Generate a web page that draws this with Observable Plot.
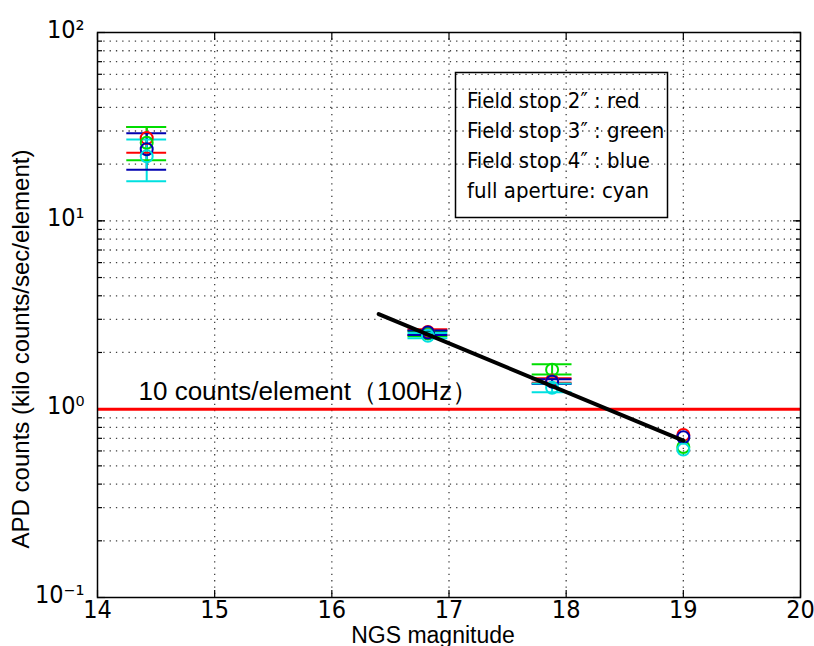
<!DOCTYPE html>
<html>
<head>
<meta charset="utf-8">
<script src="https://cdn.jsdelivr.net/npm/d3@7"></script>
<script src="https://cdn.jsdelivr.net/npm/@observablehq/plot@0.6"></script>
<style>
  html, body { margin: 0; padding: 0; background: #fff; }
  #chart { width: 814px; height: 646px; }
</style>
</head>
<body>
<div id="chart"></div>
<script>
// ---- data ----
const seriesNames = ["Field stop 2″", "Field stop 3″", "Field stop 4″", "full aperture"];
const seriesColors = ["#ff0000", "#00dd00", "#0000b0", "#00e0e0"];
const magnitudes = [14.42, 16.82, 17.88, 19.0];

const redVal = [27.5, 2.57, 1.42, 0.73];
const redLo  = [23.0, 2.48, 1.38, 0.73];
const redHi  = [31.5, 2.66, 1.46, 0.73];

const greenVal = [26.0, 2.52, 1.62, 0.63];
const greenLo  = [21.0, 2.44, 1.53, 0.63];
const greenHi  = [31.5, 2.60, 1.73, 0.63];

const blueVal = [24.0, 2.55, 1.40, 0.71];
const blueLo  = [18.7, 2.48, 1.36, 0.71];
const blueHi  = [29.2, 2.62, 1.44, 0.71];

const cyanVal = [22.0, 2.45, 1.30, 0.61];
const cyanLo  = [16.2, 2.38, 1.23, 0.61];
const cyanHi  = [27.0, 2.54, 1.37, 0.61];

const fitX = [16.4, 19.0];
const fitY = [3.2, 0.68];

const thresholdY = 1;
const thresholdLabel = "10 counts/element（100Hz）";

const xTicks = [14, 15, 16, 17, 18, 19, 20];
const yMajorTicks = [0.1, 1, 10, 100];
const yTickLabels = ["10⁻¹", "10⁰", "10¹", "10²"];
const yGridTicks = [0.2,0.3,0.4,0.5,0.6,0.7,0.8,0.9,1,2,3,4,5,6,7,8,9,10,20,30,40,50,60,70,80,90];
const legendLines = ["Field stop 2″ : red", "Field stop 3″ : green", "Field stop 4″ : blue", "full aperture: cyan"];

// ---- build table ----
const vals = [redVal, greenVal, blueVal, cyanVal];
const los = [redLo, greenLo, blueLo, cyanLo];
const his = [redHi, greenHi, blueHi, cyanHi];
const rows = [];
seriesNames.forEach((s, i) => {
  magnitudes.forEach((m, j) => {
    rows.push({series: s, color: seriesColors[i], x: m, y: vals[i][j], lo: los[i][j], hi: his[i][j]});
  });
});
const barRows = rows.filter(d => d.hi > d.lo);
const capHalf = 0.17;
const caps = barRows.flatMap(d => [{...d, cy: d.lo}, {...d, cy: d.hi}]);
const fitLine = fitX.map((x, i) => ({x, y: fitY[i]}));

const font = "'Liberation Sans', Arial, sans-serif";
const narrow = "'DejaVu Sans Condensed', 'Liberation Sans', sans-serif";
const dotted = {stroke: "#000", strokeOpacity: 0.75, strokeDasharray: "1.3,5", strokeWidth: 1.3};

const chart = Plot.plot({
  width: 814,
  height: 646,
  marginLeft: 97,
  marginRight: 14,
  marginTop: 32,
  marginBottom: 49,
  style: {fontFamily: font, background: "#fff", color: "#000", overflow: "visible"},
  x: {domain: [14, 20], ticks: xTicks},
  y: {type: "log", domain: [0.1, 100]},
  marks: [
    Plot.ruleY(yGridTicks, {y: d => d, ...dotted}),
    Plot.ruleX(xTicks.slice(1, -1), {x: d => d, ...dotted}),
    // inner tick marks
    Plot.axisY(yGridTicks, {anchor: "left", tickSize: -5, tickFormat: () => "", label: null, strokeWidth: 1.2}),
    Plot.axisY(yGridTicks, {anchor: "right", tickSize: -5, tickFormat: () => "", label: null, strokeWidth: 1.2}),
    Plot.axisY(yMajorTicks, {anchor: "left", tickSize: -8, tickFormat: () => "", label: null, strokeWidth: 1.2}),
    Plot.axisY(yMajorTicks, {anchor: "right", tickSize: -8, tickFormat: () => "", label: null, strokeWidth: 1.2}),
    Plot.axisX(xTicks, {anchor: "bottom", tickSize: -7, tickFormat: () => "", label: null, strokeWidth: 1.2}),
    Plot.axisX(xTicks, {anchor: "top", tickSize: -7, tickFormat: () => "", label: null, strokeWidth: 1.2}),
    // labels
    Plot.axisY(yMajorTicks, {anchor: "left", tickSize: 0, tickPadding: 13, fontSize: 25, dy: -3,
      tickFormat: d => yTickLabels[yMajorTicks.indexOf(d)], label: null, fontFamily: narrow}),
    Plot.axisX(xTicks, {anchor: "bottom", tickSize: 0, tickPadding: 3, fontSize: 25, label: null,
      tickFormat: d => String(d), fontFamily: narrow}),
    Plot.text(["APD counts (kilo counts/sec/element)"], {text: d => d, frameAnchor: "left", textAnchor: "middle",
      rotate: -90, dx: -76, dy: 34, fontSize: 24}),
    Plot.text(["NGS magnitude"], {text: d => d, frameAnchor: "bottom", textAnchor: "middle", lineAnchor: "bottom",
      dy: 45, dx: -16, fontSize: 23}),
    // threshold line
    Plot.ruleY([thresholdY], {y: d => d, stroke: "#ff0000", strokeWidth: 3}),
    Plot.text([thresholdLabel], {text: d => d, x: 14.35, y: thresholdY, textAnchor: "start", dy: -17, fontSize: 26}),
    // error bars
    Plot.ruleX(barRows, {x: "x", y1: "lo", y2: "hi", stroke: "color", strokeWidth: 2}),
    Plot.ruleY(caps, {y: "cy", x1: d => d.x - capHalf, x2: d => d.x + capHalf, stroke: "color", strokeWidth: 2}),
    Plot.dot(rows, {x: "x", y: "y", stroke: "color", r: 6, strokeWidth: 2, fill: "none"}),
    // fit line
    Plot.line(fitLine, {x: "x", y: "y", stroke: "#000", strokeWidth: 4}),
    Plot.frame({stroke: "#000", strokeWidth: 1.5})
  ]
});

// legend box
const svg = d3.select(chart);
const lg = svg.append("g").attr("font-family", narrow).attr("font-size", 22).attr("text-anchor", "start");
lg.append("rect").attr("x", 455.5).attr("y", 72.5).attr("width", 212).attr("height", 145)
  .attr("fill", "none").attr("stroke", "#000").attr("stroke-width", 1.5);
legendLines.forEach((t, i) => {
  lg.append("text").attr("x", 467).attr("y", 108 + i * 30).text(t);
});

document.getElementById("chart").appendChild(chart);
</script>
</body>
</html>
